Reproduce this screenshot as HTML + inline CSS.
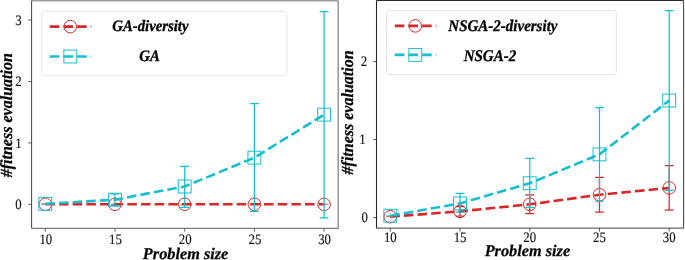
<!DOCTYPE html>
<html><head><meta charset="utf-8"><title>fitness evaluation vs problem size</title>
<style>
html,body{margin:0;padding:0;background:#fff;overflow:hidden}
svg{display:block;font-family:"Liberation Serif", "DejaVu Serif", serif;text-rendering:geometricPrecision}
</style></head>
<body>
<svg width="685" height="260" viewBox="0 0 685 260" fill="#111">
<rect x="0" y="0" width="685" height="260" fill="#fff"/>
<g opacity="0.995">
<clipPath id="c1"><rect x="31.6" y="0.7" width="306.6" height="227.6"/></clipPath>
<g clip-path="url(#c1)">
<path d="M41.1 204.3h8.4" stroke="#d62728" stroke-width="0.8" fill="none"/>
<path d="M110.8 204.3h8.4" stroke="#d62728" stroke-width="0.8" fill="none"/>
<path d="M180.5 204.3h8.4" stroke="#d62728" stroke-width="0.8" fill="none"/>
<path d="M250.2 204.3h8.4" stroke="#d62728" stroke-width="0.8" fill="none"/>
<path d="M319.9 204.3h8.4" stroke="#d62728" stroke-width="0.8" fill="none"/>
<polyline points="45.3,204.3 115,204.3 184.7,204.3 254.4,204.3 324.1,204.3" fill="none" stroke="#d62728" stroke-width="2.6" stroke-dasharray="9.54 4.13"/>
<circle cx="45.3" cy="204.3" r="6.3" fill="none" stroke="#d62728" stroke-width="1.0"/>
<circle cx="115" cy="204.3" r="6.3" fill="none" stroke="#d62728" stroke-width="1.0"/>
<circle cx="184.7" cy="204.3" r="6.3" fill="none" stroke="#d62728" stroke-width="1.0"/>
<circle cx="254.4" cy="204.3" r="6.3" fill="none" stroke="#d62728" stroke-width="1.0"/>
<circle cx="324.1" cy="204.3" r="6.3" fill="none" stroke="#d62728" stroke-width="1.0"/>
</g>
<g clip-path="url(#c1)">
<path d="M41.1 203.81h8.4" stroke="#17becf" stroke-width="0.8" fill="none"/>
<path d="M115 205.65V193.98M110.6 205.65h8.8M110.6 193.98h8.8" stroke="#17becf" stroke-width="1.25" fill="none"/>
<path d="M184.7 207.37V166.42M180.3 207.37h8.8M180.3 166.42h8.8" stroke="#17becf" stroke-width="1.25" fill="none"/>
<path d="M254.4 211.36V103.6M250 211.36h8.8M250 103.6h8.8" stroke="#17becf" stroke-width="1.25" fill="none"/>
<path d="M324.1 217.81V11.5M319.7 217.81h8.8M319.7 11.5h8.8" stroke="#17becf" stroke-width="1.25" fill="none"/>
<polyline points="45.3,203.81 115,199.7 184.7,186.49 254.4,157.64 324.1,114.66" fill="none" stroke="#17becf" stroke-width="2.6" stroke-dasharray="9.54 4.13"/>
<rect x="38.85" y="197.36" width="12.9" height="12.9" fill="none" stroke="#17becf" stroke-width="1.0"/>
<rect x="108.55" y="193.25" width="12.9" height="12.9" fill="none" stroke="#17becf" stroke-width="1.0"/>
<rect x="178.25" y="180.04" width="12.9" height="12.9" fill="none" stroke="#17becf" stroke-width="1.0"/>
<rect x="247.95" y="151.19" width="12.9" height="12.9" fill="none" stroke="#17becf" stroke-width="1.0"/>
<rect x="317.65" y="108.21" width="12.9" height="12.9" fill="none" stroke="#17becf" stroke-width="1.0"/>
</g>
<path d="M31.6 0.7H338.2" stroke="#a0a0a0" stroke-width="1.5"/>
<path d="M338.2 0.7V228.3" stroke="#8c8c8c" stroke-width="1.4"/>
<path d="M31.6 228.3H338.2" stroke="#4a4a4a" stroke-width="0.9"/>
<path d="M31.6 0.7V228.3" stroke="#2a2a2a" stroke-width="0.9"/>
<path d="M45.3 228.3v3.4" stroke="#3a3a3a" stroke-width="0.8"/>
<text transform="translate(45.8 243.6) scale(1 1.13)" text-anchor="middle" font-size="12.8" stroke="#000" stroke-width="0.12">10</text>
<path d="M115 228.3v3.4" stroke="#3a3a3a" stroke-width="0.8"/>
<text transform="translate(115.5 243.6) scale(1 1.13)" text-anchor="middle" font-size="12.8" stroke="#000" stroke-width="0.12">15</text>
<path d="M184.7 228.3v3.4" stroke="#3a3a3a" stroke-width="0.8"/>
<text transform="translate(185.2 243.6) scale(1 1.13)" text-anchor="middle" font-size="12.8" stroke="#000" stroke-width="0.12">20</text>
<path d="M254.4 228.3v3.4" stroke="#3a3a3a" stroke-width="0.8"/>
<text transform="translate(254.9 243.6) scale(1 1.13)" text-anchor="middle" font-size="12.8" stroke="#000" stroke-width="0.12">25</text>
<path d="M324.1 228.3v3.4" stroke="#3a3a3a" stroke-width="0.8"/>
<text transform="translate(324.6 243.6) scale(1 1.13)" text-anchor="middle" font-size="12.8" stroke="#000" stroke-width="0.12">30</text>
<path d="M31.6 204.3h-3.4" stroke="#3a3a3a" stroke-width="0.8"/>
<text transform="translate(21.6 209) scale(1 1.13)" text-anchor="end" font-size="12.8" stroke="#000" stroke-width="0.12">0</text>
<path d="M31.6 142.9h-3.4" stroke="#3a3a3a" stroke-width="0.8"/>
<text transform="translate(21.6 147.6) scale(1 1.13)" text-anchor="end" font-size="12.8" stroke="#000" stroke-width="0.12">1</text>
<path d="M31.6 81.5h-3.4" stroke="#3a3a3a" stroke-width="0.8"/>
<text transform="translate(21.6 86.2) scale(1 1.13)" text-anchor="end" font-size="12.8" stroke="#000" stroke-width="0.12">2</text>
<path d="M31.6 20.1h-3.4" stroke="#3a3a3a" stroke-width="0.8"/>
<text transform="translate(21.6 24.8) scale(1 1.13)" text-anchor="end" font-size="12.8" stroke="#000" stroke-width="0.12">3</text>
<text x="185.6" y="258.6" text-anchor="middle" font-size="16.3" font-weight="bold" font-style="italic" fill="#000" stroke="#000" stroke-width="0.25">Problem size</text>
<text transform="translate(12.1 115.2) rotate(-90) scale(1 1.06)" text-anchor="middle" font-size="16.05" font-weight="bold" font-style="italic" fill="#000" stroke="#000" stroke-width="0.25">#fitness evaluation</text>
<rect x="41.6" y="11.4" width="245.3" height="64.4" rx="2.6" fill="#fff" fill-opacity="0.8" stroke="#e0e0e0" stroke-width="0.9"/>
<path d="M49.8 26.6H91.4" stroke="#d62728" stroke-width="2.6" stroke-dasharray="9.54 4.13"/>
<circle cx="70.3" cy="26.6" r="6.3" fill="none" stroke="#d62728" stroke-width="1.0"/>
<text transform="translate(112.3 31.25) scale(1 1.08)" font-size="14.75" font-weight="bold" font-style="italic" fill="#000" stroke="#000" stroke-width="0.3">GA-diversity</text>
<path d="M49.8 56.5H91.4" stroke="#17becf" stroke-width="2.6" stroke-dasharray="9.54 4.13"/>
<rect x="63.85" y="50.05" width="12.9" height="12.9" fill="none" stroke="#17becf" stroke-width="1.0"/>
<text transform="translate(139.3 61.35) scale(1 1.08)" font-size="14.75" font-weight="bold" font-style="italic" fill="#000" stroke="#000" stroke-width="0.3">GA</text>
<clipPath id="c2"><rect x="376.5" y="0.5" width="307.1" height="227.65"/></clipPath>
<g clip-path="url(#c2)">
<path d="M386.1 216.66h8.4" stroke="#d62728" stroke-width="0.8" fill="none"/>
<path d="M460.02 216.04V206.67M455.62 216.04h8.8M455.62 206.67h8.8" stroke="#d62728" stroke-width="1.25" fill="none"/>
<path d="M529.75 213.7V194.97M525.35 213.7h8.8M525.35 194.97h8.8" stroke="#d62728" stroke-width="1.25" fill="none"/>
<path d="M599.48 212.14V177.33M595.08 212.14h8.8M595.08 177.33h8.8" stroke="#d62728" stroke-width="1.25" fill="none"/>
<path d="M669.2 210.11V165.54M664.8 210.11h8.8M664.8 165.54h8.8" stroke="#d62728" stroke-width="1.25" fill="none"/>
<polyline points="390.3,216.66 460.02,211.36 529.75,204.33 599.48,194.73 669.2,187.94" fill="none" stroke="#d62728" stroke-width="2.6" stroke-dasharray="9.54 4.13"/>
<circle cx="390.3" cy="216.66" r="6.3" fill="none" stroke="#d62728" stroke-width="1.0"/>
<circle cx="460.02" cy="211.36" r="6.3" fill="none" stroke="#d62728" stroke-width="1.0"/>
<circle cx="529.75" cy="204.33" r="6.3" fill="none" stroke="#d62728" stroke-width="1.0"/>
<circle cx="599.48" cy="194.73" r="6.3" fill="none" stroke="#d62728" stroke-width="1.0"/>
<circle cx="669.2" cy="187.94" r="6.3" fill="none" stroke="#d62728" stroke-width="1.0"/>
</g>
<g clip-path="url(#c2)">
<path d="M386.1 215.73h8.4" stroke="#17becf" stroke-width="0.8" fill="none"/>
<path d="M460.02 212.14V193.4M455.62 212.14h8.8M455.62 193.4h8.8" stroke="#17becf" stroke-width="1.25" fill="none"/>
<path d="M529.75 207.45V158.28M525.35 207.45h8.8M525.35 158.28h8.8" stroke="#17becf" stroke-width="1.25" fill="none"/>
<path d="M599.48 201.21V107.55M595.08 201.21h8.8M595.08 107.55h8.8" stroke="#17becf" stroke-width="1.25" fill="none"/>
<path d="M669.2 190.44V10.61M664.8 190.44h8.8M664.8 10.61h8.8" stroke="#17becf" stroke-width="1.25" fill="none"/>
<polyline points="390.3,215.73 460.02,203.39 529.75,183.26 599.48,154.38 669.2,100.53" fill="none" stroke="#17becf" stroke-width="2.6" stroke-dasharray="9.54 4.13"/>
<rect x="383.85" y="209.28" width="12.9" height="12.9" fill="none" stroke="#17becf" stroke-width="1.0"/>
<rect x="453.57" y="196.94" width="12.9" height="12.9" fill="none" stroke="#17becf" stroke-width="1.0"/>
<rect x="523.3" y="176.81" width="12.9" height="12.9" fill="none" stroke="#17becf" stroke-width="1.0"/>
<rect x="593.02" y="147.93" width="12.9" height="12.9" fill="none" stroke="#17becf" stroke-width="1.0"/>
<rect x="662.75" y="94.08" width="12.9" height="12.9" fill="none" stroke="#17becf" stroke-width="1.0"/>
</g>
<path d="M376.5 0.5H683.6" stroke="#2a2a2a" stroke-width="1.0"/>
<path d="M683.6 0.5V228.15" stroke="#3a3a3a" stroke-width="1.0"/>
<path d="M376.5 228.15H683.6" stroke="#666" stroke-width="1.2"/>
<path d="M376.5 0.5V228.15" stroke="#222" stroke-width="1.1"/>
<path d="M390.3 228.15v3.4" stroke="#333" stroke-width="0.8"/>
<text transform="translate(390.3 241.7) scale(1 1.13)" text-anchor="middle" font-size="12.8" stroke="#000" stroke-width="0.12">10</text>
<path d="M460.02 228.15v3.4" stroke="#333" stroke-width="0.8"/>
<text transform="translate(460.02 241.7) scale(1 1.13)" text-anchor="middle" font-size="12.8" stroke="#000" stroke-width="0.12">15</text>
<path d="M529.75 228.15v3.4" stroke="#333" stroke-width="0.8"/>
<text transform="translate(529.75 241.7) scale(1 1.13)" text-anchor="middle" font-size="12.8" stroke="#000" stroke-width="0.12">20</text>
<path d="M599.48 228.15v3.4" stroke="#333" stroke-width="0.8"/>
<text transform="translate(599.48 241.7) scale(1 1.13)" text-anchor="middle" font-size="12.8" stroke="#000" stroke-width="0.12">25</text>
<path d="M669.2 228.15v3.4" stroke="#333" stroke-width="0.8"/>
<text transform="translate(669.2 241.7) scale(1 1.13)" text-anchor="middle" font-size="12.8" stroke="#000" stroke-width="0.12">30</text>
<path d="M376.5 217.6h-3.4" stroke="#333" stroke-width="0.8"/>
<text transform="translate(368 221.7) scale(1 1.13)" text-anchor="end" font-size="12.8" stroke="#000" stroke-width="0.12">0</text>
<path d="M376.5 139.55h-3.4" stroke="#333" stroke-width="0.8"/>
<text transform="translate(365.7 143.65) scale(1 1.13)" text-anchor="end" font-size="12.8" stroke="#000" stroke-width="0.12">1</text>
<path d="M376.5 61.5h-3.4" stroke="#333" stroke-width="0.8"/>
<text transform="translate(367.2 65.6) scale(1 1.13)" text-anchor="end" font-size="12.8" stroke="#000" stroke-width="0.12">2</text>
<text x="527.4" y="255.6" text-anchor="middle" font-size="16.3" font-weight="bold" font-style="italic" fill="#000" stroke="#000" stroke-width="0.25">Problem size</text>
<text transform="translate(352.5 112.4) rotate(-90) scale(1 1.06)" text-anchor="middle" font-size="16.0" font-weight="bold" font-style="italic" fill="#000" stroke="#000" stroke-width="0.25">#fitness evaluation</text>
<rect x="386.6" y="10.5" width="229.7" height="64" rx="2.6" fill="#fff" fill-opacity="0.8" stroke="#e0e0e0" stroke-width="0.9"/>
<path d="M394.8 25.9H436.4" stroke="#d62728" stroke-width="2.6" stroke-dasharray="9.54 4.13"/>
<circle cx="415.3" cy="25.9" r="6.3" fill="none" stroke="#d62728" stroke-width="1.0"/>
<text transform="translate(448.3 30.95) scale(1 1.08)" font-size="15.0" font-weight="bold" font-style="italic" fill="#000" stroke="#000" stroke-width="0.3">NSGA-2-diversity</text>
<path d="M394.8 54.9H436.4" stroke="#17becf" stroke-width="2.6" stroke-dasharray="9.54 4.13"/>
<rect x="408.85" y="48.45" width="12.9" height="12.9" fill="none" stroke="#17becf" stroke-width="1.0"/>
<text transform="translate(463.7 60.5) scale(1 1.08)" font-size="15.0" font-weight="bold" font-style="italic" fill="#000" stroke="#000" stroke-width="0.3">NSGA-2</text>
</g>
</svg>
</body></html>
